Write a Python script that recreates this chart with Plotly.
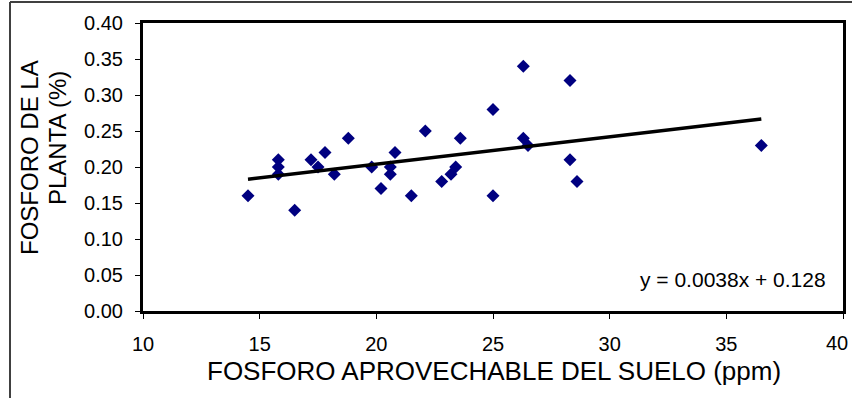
import plotly.graph_objects as go

# Data
fosforo_suelo = [14.5, 15.8, 15.8, 15.8, 16.5, 17.2, 17.5, 17.8, 18.2, 18.8,
                 19.8, 20.2, 20.6, 20.6, 20.8, 21.5, 22.1, 22.8, 23.2, 23.4,
                 23.6, 25.0, 25.0, 26.3, 26.3, 26.5, 28.3, 28.3, 28.6, 36.5]
fosforo_planta = [0.16, 0.21, 0.20, 0.19, 0.14, 0.21, 0.20, 0.22, 0.19, 0.24,
                  0.20, 0.17, 0.20, 0.19, 0.22, 0.16, 0.25, 0.18, 0.19, 0.20,
                  0.24, 0.28, 0.16, 0.34, 0.24, 0.23, 0.32, 0.21, 0.18, 0.23]
x_tick_vals = [10, 15, 20, 25, 30, 35, 40]
slope = 0.0038
intercept = 0.128
equation_label = "y = 0.0038x + 0.128"
x_title = "FOSFORO APROVECHABLE DEL SUELO (ppm)"
y_title_lines = ["FOSFORO DE LA", "PLANTA (%)"]

FONT = "Liberation Sans, Arial, sans-serif"

x_min, x_max = min(fosforo_suelo), max(fosforo_suelo)
trend_x = [x_min, x_max]
trend_y = [slope * v + intercept for v in trend_x]

fig = go.Figure()
fig.add_trace(go.Scatter(
    x=fosforo_suelo, y=fosforo_planta, mode="markers",
    marker=dict(symbol="diamond", size=10, color="#000080", line=dict(width=0)),
    showlegend=False, hoverinfo="x+y"))
fig.add_trace(go.Scatter(
    x=trend_x, y=trend_y, mode="lines",
    line=dict(color="black", width=3.5),
    showlegend=False, hoverinfo="skip"))

W, H = 852, 398
L, R, T, B = 143, 9, 23, 87
pw, ph = W - L - R, H - T - B

def px_to_paper_x(px):
    return (px - L) / pw

def px_to_paper_y(py):
    return (H - B - py) / ph

# the last x label is drawn separately so it stays inside the page, as in the reference
x_tick_text = [str(v) for v in x_tick_vals[:-1]] + [""]

fig.update_layout(
    width=W, height=H,
    margin=dict(l=L, r=R, t=T, b=B, pad=0, autoexpand=False),
    paper_bgcolor="white", plot_bgcolor="white",
    font=dict(family=FONT, color="black"),
    xaxis=dict(range=[10, 40], tickvals=x_tick_vals, ticktext=x_tick_text,
               showgrid=False, zeroline=False,
               automargin=False, ticklabeloverflow="allow",
               showline=True, linecolor="black", linewidth=3, mirror=True,
               ticks="outside", ticklen=5, tickwidth=1, tickcolor="black",
               tickfont=dict(size=20, family=FONT), ticklabelstandoff=8),
    yaxis=dict(range=[0, 0.4], dtick=0.05, tick0=0, tickformat=".2f",
               showgrid=False, zeroline=False, automargin=False,
               ticklabeloverflow="allow",
               showline=True, linecolor="black", linewidth=3, mirror=True,
               ticks="outside", ticklen=5, tickwidth=1, tickcolor="black",
               tickfont=dict(size=20, family=FONT), ticklabelstandoff=8),
)

annotations = [
    dict(text=str(x_tick_vals[-1]), xref="paper", yref="paper",
         x=px_to_paper_x(850), y=px_to_paper_y(343), xanchor="right", yanchor="middle",
         showarrow=False, font=dict(size=20, family=FONT)),
    dict(text=equation_label, xref="paper", yref="paper",
         x=px_to_paper_x(828), y=px_to_paper_y(279), xanchor="right", yanchor="middle",
         showarrow=False, font=dict(size=21, family=FONT)),
    dict(text=x_title, xref="paper", yref="paper",
         x=px_to_paper_x(494), y=px_to_paper_y(371), xanchor="center", yanchor="middle",
         showarrow=False, font=dict(size=26, family=FONT)),
    dict(text=y_title_lines[0], xref="paper", yref="paper", textangle=-90,
         x=px_to_paper_x(29), y=px_to_paper_y(158), xanchor="center", yanchor="middle",
         showarrow=False, font=dict(size=24, family=FONT)),
    dict(text=y_title_lines[1], xref="paper", yref="paper", textangle=-90,
         x=px_to_paper_x(57), y=px_to_paper_y(138), xanchor="center", yanchor="middle",
         showarrow=False, font=dict(size=24, family=FONT)),
]
fig.update_layout(annotations=annotations)

# Outer chart-area frame (cut off at right/bottom in the reference)
fig.add_shape(type="line", xref="paper", yref="paper",
              x0=px_to_paper_x(10), x1=px_to_paper_x(860),
              y0=px_to_paper_y(2), y1=px_to_paper_y(2),
              line=dict(color="#404040", width=2))
fig.add_shape(type="line", xref="paper", yref="paper",
              x0=px_to_paper_x(10), x1=px_to_paper_x(10),
              y0=px_to_paper_y(2), y1=px_to_paper_y(410),
              line=dict(color="#404040", width=2))

fig.write_html("out.html")
